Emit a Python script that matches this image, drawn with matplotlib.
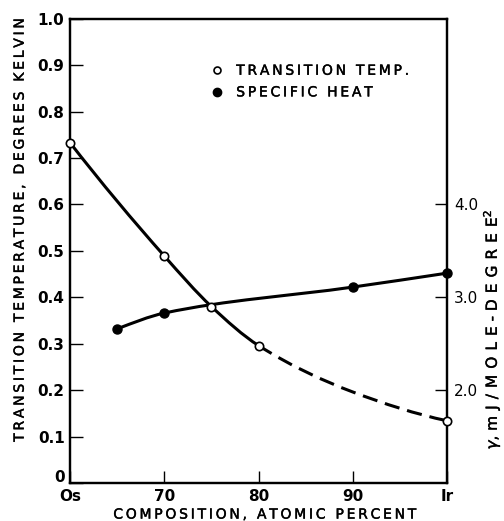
import numpy as np
import matplotlib
matplotlib.use("Agg")
import matplotlib.pyplot as plt
from matplotlib.path import Path
from matplotlib.patches import PathPatch
from matplotlib.lines import Line2D
from matplotlib.transforms import ScaledTranslation
import matplotlib.patheffects as pe

# ---- data ----
tt_comp = [60, 70, 75, 80, 100]          # transition temperature points, atomic % Ir
tt_vals = [0.733, 0.489, 0.380, 0.296, 0.134]  # K
tt_guide_comp = [90]                     # unmarked point on the dashed guide curve
tt_guide_vals = [0.196]
sh_comp = [65, 70, 90, 100]              # specific heat points
sh_vals = [2.66, 2.83, 3.11, 3.26]       # mJ/mole-deg^2
x_ticks = [60, 70, 80, 90, 100]
x_labels = ["Os", "70", "80", "90", "Ir"]
left_ticks = [0, 0.1, 0.2, 0.3, 0.4, 0.5, 0.6, 0.7, 0.8, 0.9, 1.0]
left_labels = ["0", "0.1", "0.2", "0.3", "0.4", "0.5", "0.6", "0.7", "0.8", "0.9", "1.0"]
right_ticks = [2.0, 3.0, 4.0]
right_labels = ["2.0", "3.0", "4.0"]

plt.rcParams['font.family'] = ["DejaVu Sans"]
THIN = "\u2009"
HEAVY = [pe.withStroke(linewidth=0.3, foreground='black')]


def spaced(s, n=1):
    return (THIN * n).join(list(s))


def pchip_slopes(x, y):
    x = np.asarray(x, float)
    y = np.asarray(y, float)
    h = np.diff(x)
    d = np.diff(y) / h
    m = np.zeros_like(y)
    for i in range(1, len(x) - 1):
        if d[i - 1] * d[i] > 0:
            w1 = 2 * h[i] + h[i - 1]
            w2 = h[i] + 2 * h[i - 1]
            m[i] = (w1 + w2) / (w1 / d[i - 1] + w2 / d[i])
    m[0] = ((2 * h[0] + h[1]) * d[0] - h[0] * d[1]) / (h[0] + h[1])
    m[-1] = ((2 * h[-1] + h[-2]) * d[-1] - h[-1] * d[-2]) / (h[-1] + h[-2])
    return x, y, h, m


def smooth_segments(x, y):
    x, y, h, m = pchip_slopes(x, y)
    segs = []
    for i in range(len(x) - 1):
        dd = h[i] / 3.0
        segs.append([(x[i], y[i]), (x[i] + dd, y[i] + m[i] * dd),
                     (x[i + 1] - dd, y[i + 1] - m[i + 1] * dd), (x[i + 1], y[i + 1])])
    return segs


def seg_path(segs):
    verts = [segs[0][0]]
    codes = [Path.MOVETO]
    for s in segs:
        verts += s[1:]
        codes += [Path.CURVE4] * 3
    return Path(verts, codes)


fig = plt.figure(figsize=(5.04, 5.21), dpi=100)
ax = fig.add_axes([0.139, 0.073, 0.748, 0.891])
ax.set_xlim(60, 100)
ax.set_ylim(0, 1.0)

for s in ax.spines.values():
    s.set_linewidth(1.6)

ax.set_xticks(x_ticks)
ax.set_xticklabels(x_labels)
ax.set_yticks(left_ticks)
ax.set_yticklabels(left_labels)
ax.tick_params(axis='both', direction='in', length=9, width=1.0, labelsize=11)
ax.tick_params(axis='x', pad=4)
ax.tick_params(axis='y', pad=4)
for lab in ax.get_yticklabels() + ax.get_xticklabels():
    lab.set_fontweight('bold')
ax.set_xlabel(spaced("COMPOSITION, ATOMIC PERCENT"), fontsize=10, path_effects=HEAVY)
ax.set_ylabel(spaced("TRANSITION TEMPERATURE, DEGREES KELVIN"), fontsize=10,
              path_effects=HEAVY)
ax.yaxis.set_label_coords(-0.115, 0.543)
ax.xaxis.set_label_coords(0.515, -0.053)

# transition temperature curve
all_x = tt_comp[:4] + tt_guide_comp + tt_comp[4:]
all_y = tt_vals[:4] + tt_guide_vals + tt_vals[4:]
segs = smooth_segments(all_x, all_y)
ax.add_patch(PathPatch(seg_path(segs[:3]), fill=False, lw=2.2, color='black', zorder=3))
ax.add_patch(PathPatch(seg_path(segs[3:]), fill=False, lw=2.2, color='black',
                       linestyle=(0, (5.0, 2.6)), zorder=3))

# right axis
ax2 = ax.twinx()
ax2.set_ylim(1.0, 6.0)
for s in ax2.spines.values():
    s.set_linewidth(1.6)
ax2.set_yticks(right_ticks)
ax2.set_yticklabels(right_labels)
ax2.tick_params(axis='y', direction='in', length=9, width=1.0, labelsize=11, pad=5)
ax2.set_ylabel(r"$\gamma$, " + spaced("mJ/MOLE", 2) + " - " + spaced("DEGREE", 2) + r"$^{2}$",
               fontsize=11, rotation=90, path_effects=HEAVY)
ax2.yaxis.set_label_coords(1.088, 0.33)

sh_segs = smooth_segments(sh_comp, sh_vals)
ax2.add_patch(PathPatch(seg_path(sh_segs), fill=False, lw=2.2, color='black', zorder=3))
ax2.plot(sh_comp, sh_vals, 'o', ms=6.5, mfc='black', mec='black', zorder=4, clip_on=False)

# transition markers drawn on top
ax2.plot(tt_comp, [1 + 5 * v for v in tt_vals], 'o', ms=6, mfc='white', mec='black',
         mew=1.2, zorder=5, clip_on=False)

handles = [Line2D([], [], ls='none', marker='o', ms=5, mfc='white', mec='black', mew=1.2),
           Line2D([], [], ls='none', marker='o', ms=6, mfc='black', mec='black')]
leg = ax2.legend(handles, [spaced("TRANSITION TEMP."), spaced("SPECIFIC HEAT")],
                 loc='upper left', bbox_to_anchor=(0.345, 0.93), frameon=False,
                 handlelength=0.6, handletextpad=1.1, labelspacing=0.55, fontsize=10)
for t in leg.get_texts():
    t.set_path_effects(HEAVY)

fig.canvas.draw()
# lift the "0" label a little, as in the reference
zero_lab = ax.get_yticklabels()[0]
zero_lab.set_transform(zero_lab.get_transform() + ScaledTranslation(0, 5 / 72, fig.dpi_scale_trans))

fig.savefig("out.png", dpi=100)
